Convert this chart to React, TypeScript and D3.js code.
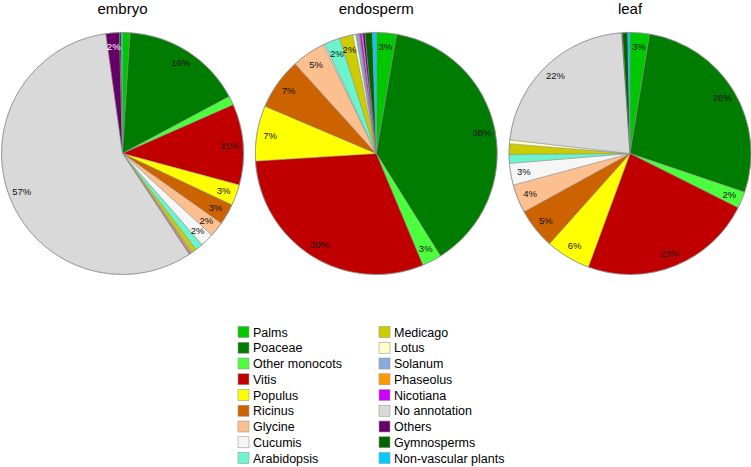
import React from "react";
import * as d3 from "d3";

const width = 751;
const height = 467;
const radius = 121;
const font = "'Liberation Sans', Arial, Helvetica, sans-serif";

// taxon order, clockwise from 12 o'clock
const categories = [
  "Palms",
  "Poaceae",
  "Other monocots",
  "Vitis",
  "Populus",
  "Ricinus",
  "Glycine",
  "Cucumis",
  "Arabidopsis",
  "Medicago",
  "Lotus",
  "Solanum",
  "Phaseolus",
  "Nicotiana",
  "No annotation",
  "Others",
  "Gymnosperms",
  "Non-vascular plants"
];

const colors = [
  "#00c800",
  "#007c00",
  "#4cff3c",
  "#c00000",
  "#ffff00",
  "#cc6200",
  "#fcbf90",
  "#f6f6f6",
  "#6cf5cc",
  "#cccc00",
  "#ffffcc",
  "#88aadd",
  "#ff9900",
  "#cc00ff",
  "#d9d9d9",
  "#660066",
  "#006400",
  "#00ccff"
];

const tissues = ["embryo", "endosperm", "leaf"];

// percentages
const embryo = [1.0, 16.2, 1.2, 10.8, 2.8, 2.8, 2.0, 1.8, 1.0, 0.6, 0.1, 0.1, 0.2, 0.1, 57.1, 1.8, 0.25, 0.15];
const endosperm = [2.7, 38.4, 2.6, 30.3, 7.4, 6.9, 4.5, 0.2, 2.1, 1.8, 0.4, 0.4, 0.1, 0.3, 0.1, 0.3, 1.0, 0.5];
const leaf = [2.6, 27.6, 2.2, 23.2, 6.0, 5.4, 3.8, 2.9, 1.2, 1.4, 0.5, 0, 0, 0, 22.1, 0.1, 0.7, 0.3];

const series = [embryo, endosperm, leaf];

const xScale = d3.scalePoint<string>().domain(tissues).range([122.5, 630]);
const cy = 153.5;

const color = d3.scaleOrdinal<string, string>().domain(categories).range(colors);

type Item = { name: string; value: number };

const pie = d3
  .pie<Item>()
  .value(d => d.value)
  .sort(null);
const arc = d3.arc<d3.PieArcDatum<Item>>().innerRadius(0).outerRadius(radius);
const labelArc = d3
  .arc<d3.PieArcDatum<Item>>()
  .innerRadius(radius * 0.89)
  .outerRadius(radius * 0.89);

// legend: two columns of nine
const legendRows = d3.scaleLinear().domain([0, 8]).range([332, 458]);
const legendCols = [238, 379];

function Pie({ name, values }: { name: string; values: number[] }) {
  const items: Item[] = categories.map((c, i) => ({ name: c, value: values[i] }));
  const total = d3.sum(values);
  const arcs = pie(items);
  const cx = xScale(name) as number;
  return (
    <g>
      <text
        x={cx}
        y={14}
        textAnchor="middle"
        fontSize={15}
        fontFamily={font}
        fill="#000"
      >
        {name}
      </text>
      <g transform={`translate(${cx},${cy})`}>
        {arcs
          .filter(a => a.data.value > 0)
          .map(a => (
            <path
              key={a.data.name}
              d={arc(a) || ""}
              fill={color(a.data.name)}
              stroke="#8a8a8a"
              strokeWidth={0.5}
            />
          ))}
        <circle r={radius} fill="none" stroke="#8a8a8a" strokeWidth={0.6} />
        {arcs.map(a => {
          const pct = Math.round((a.data.value / total) * 100);
          if (pct < 2) return null;
          const [lx, ly] = labelArc.centroid(a);
          const dark = d3.lab(color(a.data.name)).l < 30;
          return (
            <text
              key={a.data.name + "-l"}
              x={lx}
              y={ly}
              dy="0.35em"
              textAnchor="middle"
              fontSize={9.5}
              fontFamily={font}
              fill={dark ? "#fff" : "#111"}
            >
              {pct + "%"}
            </text>
          );
        })}
      </g>
    </g>
  );
}

export default function App() {
  return (
    <svg
      width={width}
      height={height}
      style={{ position: "absolute", left: 0, top: 0, background: "#fff" }}
    >
      {tissues.map((t, i) => (
        <Pie key={t} name={t} values={series[i]} />
      ))}
      <g>
        {categories.map((c, i) => {
          const col = Math.floor(i / 9);
          const row = i % 9;
          const x = legendCols[col];
          const y = legendRows(row);
          return (
            <g key={c} transform={`translate(${x},${y})`}>
              <rect
                x={0}
                y={-5.5}
                width={11}
                height={11}
                fill={color(c)}
                stroke="#999"
                strokeWidth={0.6}
              />
              <text
                x={15}
                y={0}
                dy="0.36em"
                fontSize={12.5}
                fontFamily={font}
                fill="#000"
              >
                {c}
              </text>
            </g>
          );
        })}
      </g>
    </svg>
  );
}
